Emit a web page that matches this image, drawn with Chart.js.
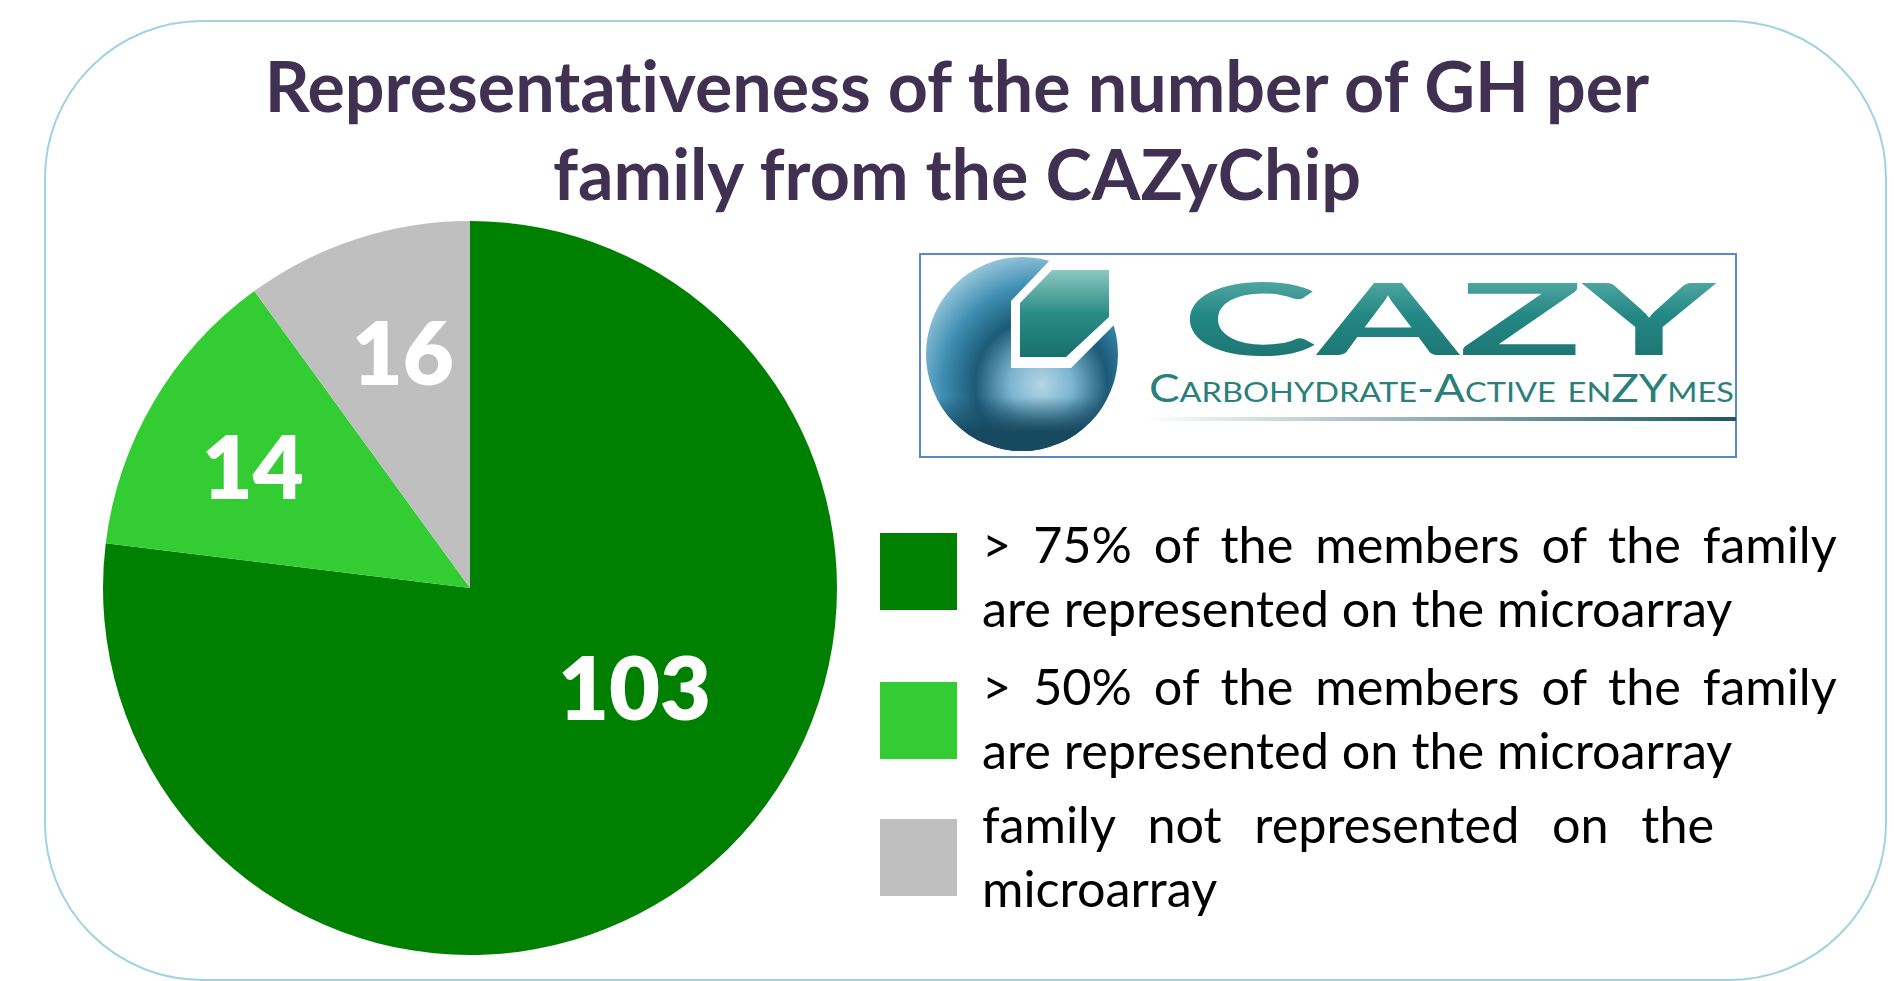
<!DOCTYPE html>
<html>
<head>
<meta charset="utf-8">
<title>CAZyChip</title>
<script src="https://cdn.jsdelivr.net/npm/chart.js@4"></script>
<style>
html, body { margin: 0; padding: 0; background: #fff; overflow: hidden; }
#page { position: relative; width: 1894px; height: 981px; font-family: Lato, sans-serif; font-variant-ligatures: none; }
#frame { position: absolute; left: 44px; top: 20px; width: 1839px; height: 957px; border: 2px solid #9fd3e2; border-radius: 158px; }
#piecanvas { position: absolute; left: 0; top: 0; }
h1 { position: absolute; left: 0; width: 1914px; top: 41px; margin: 0; text-align: center; color: #403152; font-size: 70px; line-height: 88px; font-weight: 700; }
#logo { position: absolute; left: 919px; top: 253px; }
.swatch { position: absolute; left: 880px; width: 77px; height: 77px; }
.line { position: absolute; left: 982px; font-size: 50.4px; line-height: 60px; color: #000; white-space: nowrap; }
</style>
</head>
<body>
<div id="page">
    <div id="frame"></div>
    <h1 id="title"></h1>
    <canvas id="piecanvas" width="1894" height="981"></canvas>
    <svg id="logo" width="818" height="205" viewBox="0 0 818 205">
        <defs>
            <radialGradient id="ball" cx="0.6" cy="0.66" r="0.72">
                <stop offset="0" stop-color="#b5d6e6"/>
                <stop offset="0.22" stop-color="#7db6d0"/>
                <stop offset="0.48" stop-color="#1c5a78"/>
                <stop offset="0.72" stop-color="#3f8fb3"/>
                <stop offset="1" stop-color="#a6cfe2"/>
            </radialGradient>
            <linearGradient id="ballshade" x1="0" y1="0" x2="0" y2="1">
                <stop offset="0.72" stop-color="#174a60" stop-opacity="0"/>
                <stop offset="0.9" stop-color="#174a60" stop-opacity="1"/>
            </linearGradient>
            <linearGradient id="hex" x1="0" y1="0" x2="0" y2="1">
                <stop offset="0" stop-color="#8cc8c0"/>
                <stop offset="0.5" stop-color="#2a8c86"/>
                <stop offset="1" stop-color="#17706c"/>
            </linearGradient>
            <linearGradient id="letters" x1="0" y1="0" x2="0" y2="1">
                <stop offset="0" stop-color="#6fbdb8"/>
                <stop offset="0.5" stop-color="#238783"/>
                <stop offset="1" stop-color="#1a6f6c"/>
            </linearGradient>
            <linearGradient id="rule" x1="0" y1="0" x2="1" y2="0">
                <stop offset="0" stop-color="#ffffff"/>
                <stop offset="1" stop-color="#1f5566"/>
            </linearGradient>
        </defs>
        <rect x="1" y="1" width="816" height="203" fill="#fff" stroke="#5b88c9" stroke-width="2"/>
        <ellipse cx="103" cy="101" rx="96" ry="97" fill="url(#ball)"/>
        <ellipse cx="103" cy="101" rx="96" ry="97" fill="url(#ballshade)"/>
        <polygon points="135,3 205,3 205,62 152,115 92,115 92,48" fill="#fff"/>
        <polygon points="133,17 190,17 190,64 147,104 101,104 101,50" fill="url(#hex)"/>
        <text x="263" y="102" font-family="Lato, sans-serif" font-weight="700" font-size="100" fill="url(#letters)" textLength="533" lengthAdjust="spacingAndGlyphs">CAZY</text>
        <text x="230" y="149" font-family="Lato, sans-serif" font-size="38" fill="#2a7f7c" style="font-variant: small-caps" textLength="585" lengthAdjust="spacingAndGlyphs">Carbohydrate-Active enZYmes</text>
        <rect x="224" y="164" width="593" height="4" fill="url(#rule)"/>
    </svg>
    <div id="legend"></div>
</div>
<script>
var titleLines = ['Representativeness of the number of GH per', 'family from the CAZyChip'];

var categories = ['> 75% of the members of the family are represented on the microarray',
                  '> 50% of the members of the family are represented on the microarray',
                  'family not represented on the microarray'];
// printed numbers on the slices
var printedCounts = [103, 14, 16];
// slice sizes as drawn in the picture, in degrees (they do not follow the printed counts)
var sliceDegrees = [277, 47, 36];
var sliceColors = ['#008000', '#33cc33', '#bfbfbf'];

var legendLines = [
    ['> 75% of  the members  of the family', 'are represented on the microarray'],
    ['> 50% of  the members  of the family', 'are represented on the microarray'],
    ['family  not  represented  on  the', 'microarray']
];

function initPage() {
    document.getElementById('title').innerHTML = titleLines.join('<br>');

    // legend squares and text, one block per category
    var legend = document.getElementById('legend');
    var swatchTops = [533, 682, 819];
    var lineTops = [[514, 578], [656, 720], [794, 858]];
    var lineWidths = [[855, 0], [855, 0], [732, 0]];
    for (var i = 0; i < categories.length; i++) {
        var sw = document.createElement('div');
        sw.className = 'swatch';
        sw.style.top = swatchTops[i] + 'px';
        sw.style.background = sliceColors[i];
        legend.appendChild(sw);
        for (var j = 0; j < 2; j++) {
            var ln = document.createElement('div');
            ln.className = 'line';
            ln.style.top = lineTops[i][j] + 'px';
            ln.textContent = legendLines[i][j];
            legend.appendChild(ln);
            if (lineWidths[i][j]) {
                // stretch the word gaps to the width of the line
                var words = legendLines[i][j].split(/\s+/).length - 1;
                ln.style.wordSpacing = (lineWidths[i][j] - ln.offsetWidth) / words + 'px';
            }
        }
    }

    // where each number sits: angle from the top in degrees, and share of the radius
    var labelPlaces = [[121.4, 0.525], [299, 0.677], [344, 0.664]];

    var sliceNumbers = {
        id: 'sliceNumbers',
        afterDatasetsDraw: function (chart) {
            var ctx = chart.ctx;
            var arcs = chart.getDatasetMeta(0).data;
            ctx.save();
            ctx.fillStyle = '#fff';
            ctx.font = '800 88px Lato, sans-serif';
            ctx.textAlign = 'center';
            ctx.textBaseline = 'middle';
            arcs.forEach(function (arc, i) {
                var a = labelPlaces[i][0] * Math.PI / 180;
                var r = arc.outerRadius * labelPlaces[i][1];
                ctx.fillText(String(printedCounts[i]), arc.x + r * Math.sin(a), arc.y - r * Math.cos(a) + 3);
            });
            ctx.restore();
        }
    };

    new Chart(document.getElementById('piecanvas').getContext('2d'), {
        type: 'pie',
        data: {
            labels: categories,
            datasets: [{
                data: sliceDegrees,
                backgroundColor: sliceColors,
                borderWidth: 0
            }]
        },
        options: {
            responsive: false,
            animation: false,
            layout: { padding: { left: 103, right: 1057, top: 221, bottom: 26 } },
            plugins: {
                legend: { display: false },
                tooltip: { enabled: false }
            }
        },
        plugins: [sliceNumbers]
    });
}

document.addEventListener('DOMContentLoaded', initPage);
</script>
</body>
</html>
